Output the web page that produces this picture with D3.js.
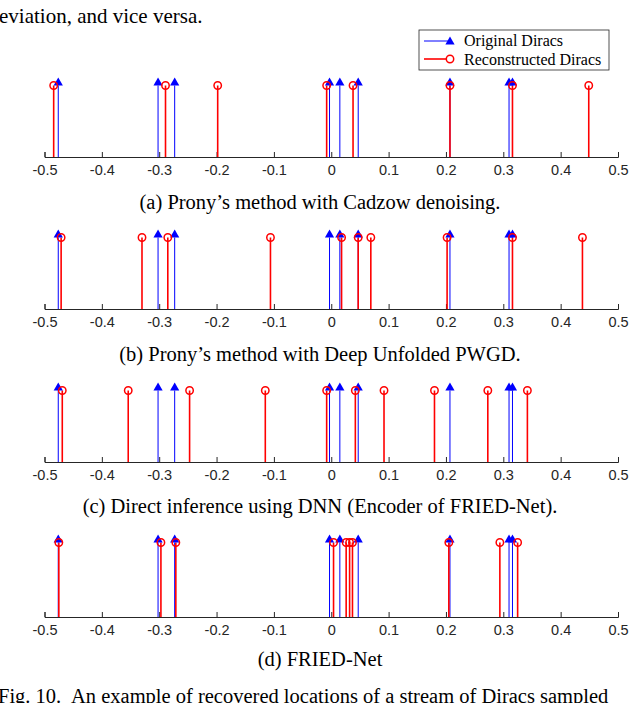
<!DOCTYPE html>
<html>
<head>
<meta charset="utf-8">
<script src="https://cdn.jsdelivr.net/npm/d3@7"></script>
<style>
  body { margin: 0; background: #fff; }
  svg { display: block; }
</style>
</head>
<body>
<svg id="fig"></svg>
<script>
// stem plots of original vs reconstructed Dirac locations

const ticks = [-0.5, -0.4, -0.3, -0.2, -0.1, 0, 0.1, 0.2, 0.3, 0.4, 0.5];

const original = [-0.476, -0.302, -0.273, -0.003, 0.015, 0.047, 0.207, 0.310, 0.316];

const reconA = [-0.484, -0.289, -0.198, -0.008, 0.038, 0.207, 0.316, 0.449];
const reconB = [-0.471, -0.330, -0.285, -0.106, 0.018, 0.047, 0.069, 0.202, 0.316, 0.438];
const reconC = [-0.469, -0.354, -0.247, -0.115, -0.008, 0.042, 0.092, 0.180, 0.273, 0.342];
const reconD = [-0.475, -0.297, -0.271, 0.004, 0.026, 0.032, 0.037, 0.205, 0.294, 0.325];

const captions = [
	"(a) Prony\u2019s method with Cadzow denoising.",
	"(b) Prony\u2019s method with Deep Unfolded PWGD.",
	"(c) Direct inference using DNN (Encoder of FRIED-Net).",
	"(d) FRIED-Net"
];

const legendLabels = ["Original Diracs", "Reconstructed Diracs"];

const width = 640, height = 703;
const serif = "'Liberation Serif', 'DejaVu Serif', serif";
const sans = "'Liberation Sans', Arial, sans-serif";

let svg = d3.select("#fig").attr("width", width).attr("height", height);

let x = d3.scaleLinear().domain([-0.5, 0.5]).range([44.5, 618]);

// baseline of each panel, stems have unit height
let panels = [
	{recon: reconA, base: 157, top: 85.5, cap: 209},
	{recon: reconB, base: 309, top: 237.5, cap: 361},
	{recon: reconC, base: 462, top: 390.5, cap: 513},
	{recon: reconD, base: 617, top: 542.5, cap: 666}
];

let tri = "M0,-8L4.6,0L-4.6,0Z";

panels.forEach((p, i) => {
	let y = d3.scaleLinear().domain([0, 1]).range([p.base, p.top]);
	let g = svg.append("g");

	// axis
	let axis = d3.axisBottom(x)
		.tickValues(ticks)
		.tickSize(-5)
		.tickPadding(8)
		.tickFormat(d => String(Math.round(d * 10) / 10));
	let ax = g.append("g")
		.attr("transform", "translate(0," + p.base + ")")
		.call(axis);
	ax.select(".domain").attr("stroke", "#262626").attr("stroke-width", 1);
	ax.selectAll(".tick line").attr("stroke", "#262626");
	ax.selectAll(".tick text")
		.attr("fill", "#262626")
		.style("font-family", sans)
		.style("font-size", "14.5px");

	// original stems
	g.selectAll(".orig").data(original).join("line")
		.attr("x1", d => x(d)).attr("x2", d => x(d))
		.attr("y1", y(0)).attr("y2", y(1))
		.attr("stroke", "#0000ff").attr("stroke-width", 1);

	// reconstructed stems
	g.selectAll(".rec").data(p.recon).join("line")
		.attr("class", "rec")
		.attr("x1", d => x(d)).attr("x2", d => x(d))
		.attr("y1", y(0)).attr("y2", y(1))
		.attr("stroke", "#ff0000").attr("stroke-width", 1.6);

	g.selectAll(".tri").data(original).join("path")
		.attr("class", "tri")
		.attr("d", tri)
		.attr("transform", d => "translate(" + x(d) + "," + y(1) + ")")
		.attr("fill", "#0000ff");

	g.selectAll(".circ").data(p.recon).join("circle")
		.attr("class", "circ")
		.attr("cx", d => x(d)).attr("cy", y(1)).attr("r", 3.7)
		.attr("fill", "none").attr("stroke", "#ff0000").attr("stroke-width", 1.5);

	svg.append("text")
		.attr("x", 320).attr("y", p.cap)
		.attr("text-anchor", "middle")
		.style("font-family", serif)
		.style("font-size", "20.5px")
		.text(captions[i]);
});

// legend
let lg = svg.append("g").attr("transform", "translate(419,30)");
lg.append("rect").attr("x", 0).attr("y", 0).attr("width", 190).attr("height", 40)
	.attr("fill", "#fff").attr("stroke", "#262626").attr("stroke-width", 0.8);
lg.append("line").attr("x1", 5).attr("x2", 31).attr("y1", 11).attr("y2", 11)
	.attr("stroke", "#0000ff").attr("stroke-width", 1);
lg.append("path").attr("d", tri).attr("transform", "translate(31,14.5)").attr("fill", "#0000ff");
lg.append("line").attr("x1", 5).attr("x2", 31).attr("y1", 29).attr("y2", 29)
	.attr("stroke", "#ff0000").attr("stroke-width", 1.6);
lg.append("circle").attr("cx", 31).attr("cy", 29).attr("r", 3.7)
	.attr("fill", "#fff").attr("stroke", "#ff0000").attr("stroke-width", 1.5);
lg.selectAll(".lt").data(legendLabels).join("text")
	.attr("x", 45).attr("y", (d, i) => 16 + i * 18.5)
	.style("font-family", serif)
	.style("font-size", "16px")
	.text(d => d);

// surrounding page text
svg.append("text").attr("x", -1).attr("y", 23)
	.style("font-family", serif).style("font-size", "21px")
	.text("eviation, and vice versa.");
let fig = svg.append("text").attr("y", 703)
	.style("font-family", serif).style("font-size", "20.5px");
fig.append("tspan").attr("x", -2).text("Fig. 10.");
fig.append("tspan").attr("x", 71).text("An example of recovered locations of a stream of Diracs sampled");
</script>
</body>
</html>
